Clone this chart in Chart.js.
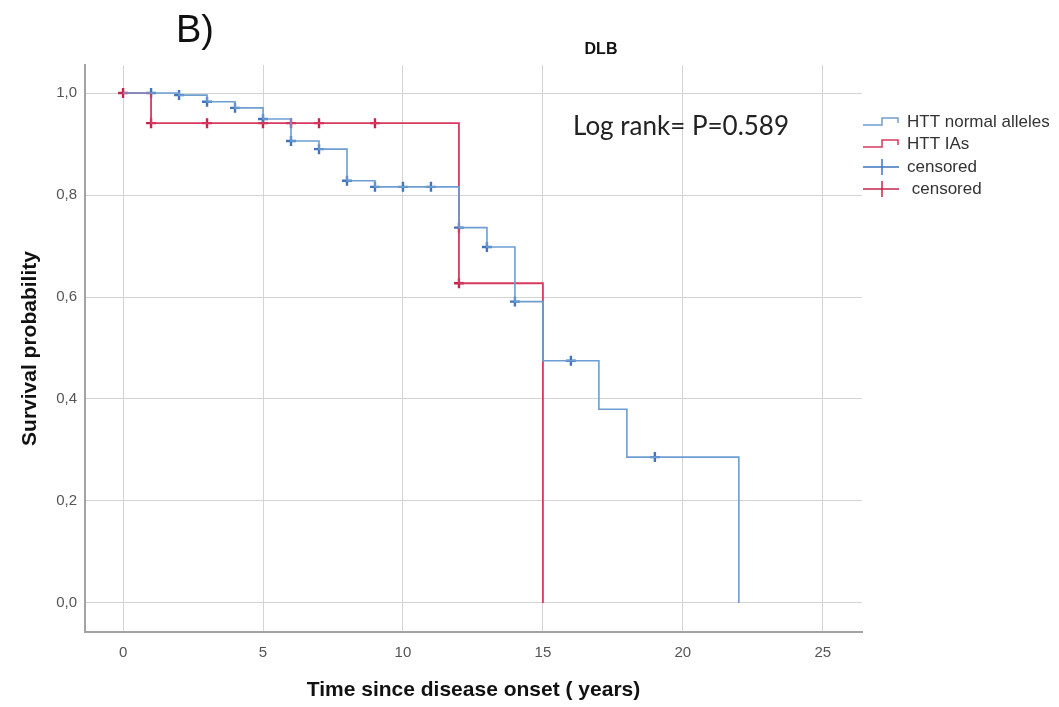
<!DOCTYPE html>
<html><head><meta charset="utf-8">
<script src="https://cdn.jsdelivr.net/npm/chart.js@4.4.0/dist/chart.umd.min.js"></script>
<style>html,body{margin:0;padding:0;background:#fff;}#wrap{width:1059px;height:707px;position:relative;}canvas{display:block;}</style>
</head><body><div id="wrap"><canvas id="c" width="1059" height="707" style="width:1059px;height:707px"></canvas></div>
<script>
// ---- data ----
const xTicks = [0, 5, 10, 15, 20, 25];
const yTicks = [0, 0.2, 0.4, 0.6, 0.8, 1.0];
const seriesNames = ['HTT normal alleles', 'HTT IAs', 'censored', ' censored'];
const normalTimes = [0, 2, 3, 4, 5, 6, 7, 8, 9, 12, 13, 14, 15, 17, 18, 22];
const normalSurv  = [1.0, 0.996, 0.983, 0.971, 0.949, 0.906, 0.890, 0.828, 0.816, 0.736, 0.698, 0.591, 0.475, 0.380, 0.286, 0.0];
const iaTimes = [0, 1, 12, 15];
const iaSurv  = [1.0, 0.941, 0.627, 0.0];
const normalCensTimes = [1, 2, 3, 4, 5, 6, 7, 8, 9, 10, 11, 12, 13, 14, 16, 19];
const normalCensSurv  = [1.0, 0.996, 0.983, 0.971, 0.949, 0.906, 0.890, 0.828, 0.816, 0.816, 0.816, 0.736, 0.698, 0.591, 0.475, 0.286];
const iaCensTimes = [0, 1, 3, 5, 6, 7, 9, 12];
const iaCensSurv  = [1.0, 0.941, 0.941, 0.941, 0.941, 0.941, 0.941, 0.627];
const titleText = 'DLB';
const panelText = 'B)';
const logRankText = 'Log rank= P=0.589';
const xTitle = 'Time since disease onset ( years)';
const yTitle = 'Survival probability';

const BLUE_LINE = '#6d9dd1', BLUE_PT = '#3f75bd';
const RED_LINE = '#d63a5e', RED_PT = '#c2264d';
const pts = (xs, ys) => xs.map((x, i) => ({x: x, y: ys[i]}));

const decor = {
  id: 'decor',
  afterDraw(chart) {
    const ctx = chart.ctx, a = chart.chartArea;
    ctx.save();
    ctx.fillStyle = '#111';
    ctx.textBaseline = 'middle';
    ctx.textAlign = 'left';
    ctx.font = '38px "Liberation Sans", Arial, sans-serif';
    ctx.fillText(panelText, 176, 32);
    ctx.textAlign = 'center';
    ctx.font = 'bold 16px "Liberation Sans", Arial, sans-serif';
    ctx.fillText(titleText, 601, 50);
    ctx.font = 'bold 21px "Liberation Sans", Arial, sans-serif';
    ctx.fillText(xTitle, (a.left + a.right) / 2, 690);
    ctx.save();
    ctx.translate(30, (a.top + a.bottom) / 2);
    ctx.rotate(-Math.PI / 2);
    ctx.fillText(yTitle, 0, 0);
    ctx.restore();
    ctx.fillStyle = '#222';
    ctx.textAlign = 'left';
    ctx.font = '26px Lato, "Open Sans", sans-serif';
    ctx.fillText(logRankText, 573, 127);

    // legend
    const lx = 863, ys = [122, 144, 167, 189];
    ctx.lineWidth = 1.5;
    [[BLUE_LINE, ys[0]], [RED_LINE, ys[1]]].forEach(([c, y]) => {
      ctx.strokeStyle = c;
      ctx.beginPath();
      ctx.moveTo(lx, y + 3); ctx.lineTo(lx + 19, y + 3); ctx.lineTo(lx + 19, y - 4);
      ctx.lineTo(lx + 35, y - 4); ctx.lineTo(lx + 35, y + 1);
      ctx.stroke();
    });
    [[BLUE_PT, ys[2]], [RED_PT, ys[3]]].forEach(([c, y]) => {
      ctx.strokeStyle = c;
      ctx.beginPath();
      ctx.moveTo(lx, y); ctx.lineTo(lx + 36, y);
      ctx.moveTo(lx + 19, y - 8); ctx.lineTo(lx + 19, y + 8);
      ctx.stroke();
    });
    ctx.fillStyle = '#333';
    ctx.font = '17px "Liberation Sans", Arial, sans-serif';
    seriesNames.forEach((n, i) => ctx.fillText(n, lx + 44, ys[i]));
    ctx.restore();
  }
};

new Chart(document.getElementById('c'), {
  type: 'line',
  data: {
    datasets: [
      {label: seriesNames[0], data: pts(normalTimes, normalSurv), stepped: true, borderColor: BLUE_LINE, borderWidth: 1.6, pointRadius: 0, fill: false},
      {label: seriesNames[1], data: pts(iaTimes, iaSurv), stepped: true, borderColor: RED_LINE, borderWidth: 1.8, pointRadius: 0, fill: false},
      {label: seriesNames[2], type: 'scatter', data: pts(normalCensTimes, normalCensSurv), pointStyle: 'cross', pointRadius: 5, borderColor: BLUE_PT, borderWidth: 2.4, showLine: false},
      {label: seriesNames[3], type: 'scatter', data: pts(iaCensTimes, iaCensSurv), pointStyle: 'cross', pointRadius: 5, borderColor: RED_PT, borderWidth: 2.4, showLine: false}
    ]
  },
  options: {
    responsive: false,
    maintainAspectRatio: false,
    animation: false,
    devicePixelRatio: 1,
    layout: {padding: {top: 65, right: 197, left: 0, bottom: 0}},
    plugins: {legend: {display: false}, tooltip: {enabled: false}},
    scales: {
      x: {
        type: 'linear', min: -1.36, max: 26.4,
        afterBuildTicks: s => { s.ticks = xTicks.map(v => ({value: v})); },
        afterFit: s => { s.height = 75; },
        grid: {color: '#d3d3d3', lineWidth: 1, drawTicks: false},
        border: {display: true, color: '#a3a3a3', width: 2},
        ticks: {color: '#555', padding: 12, maxRotation: 0, font: {size: 15, family: '"Liberation Sans", Arial, sans-serif'}}
      },
      y: {
        type: 'linear', min: -0.057, max: 1.055,
        afterBuildTicks: s => { s.ticks = yTicks.map(v => ({value: v})); },
        afterFit: s => { s.width = 85; },
        grid: {color: '#d3d3d3', lineWidth: 1, drawTicks: false},
        border: {display: true, color: '#a3a3a3', width: 2},
        ticks: {color: '#555', padding: 8, font: {size: 15, family: '"Liberation Sans", Arial, sans-serif'},
          callback: v => v.toFixed(1).replace('.', ',')}
      }
    }
  },
  plugins: [decor]
});
</script></body></html>
